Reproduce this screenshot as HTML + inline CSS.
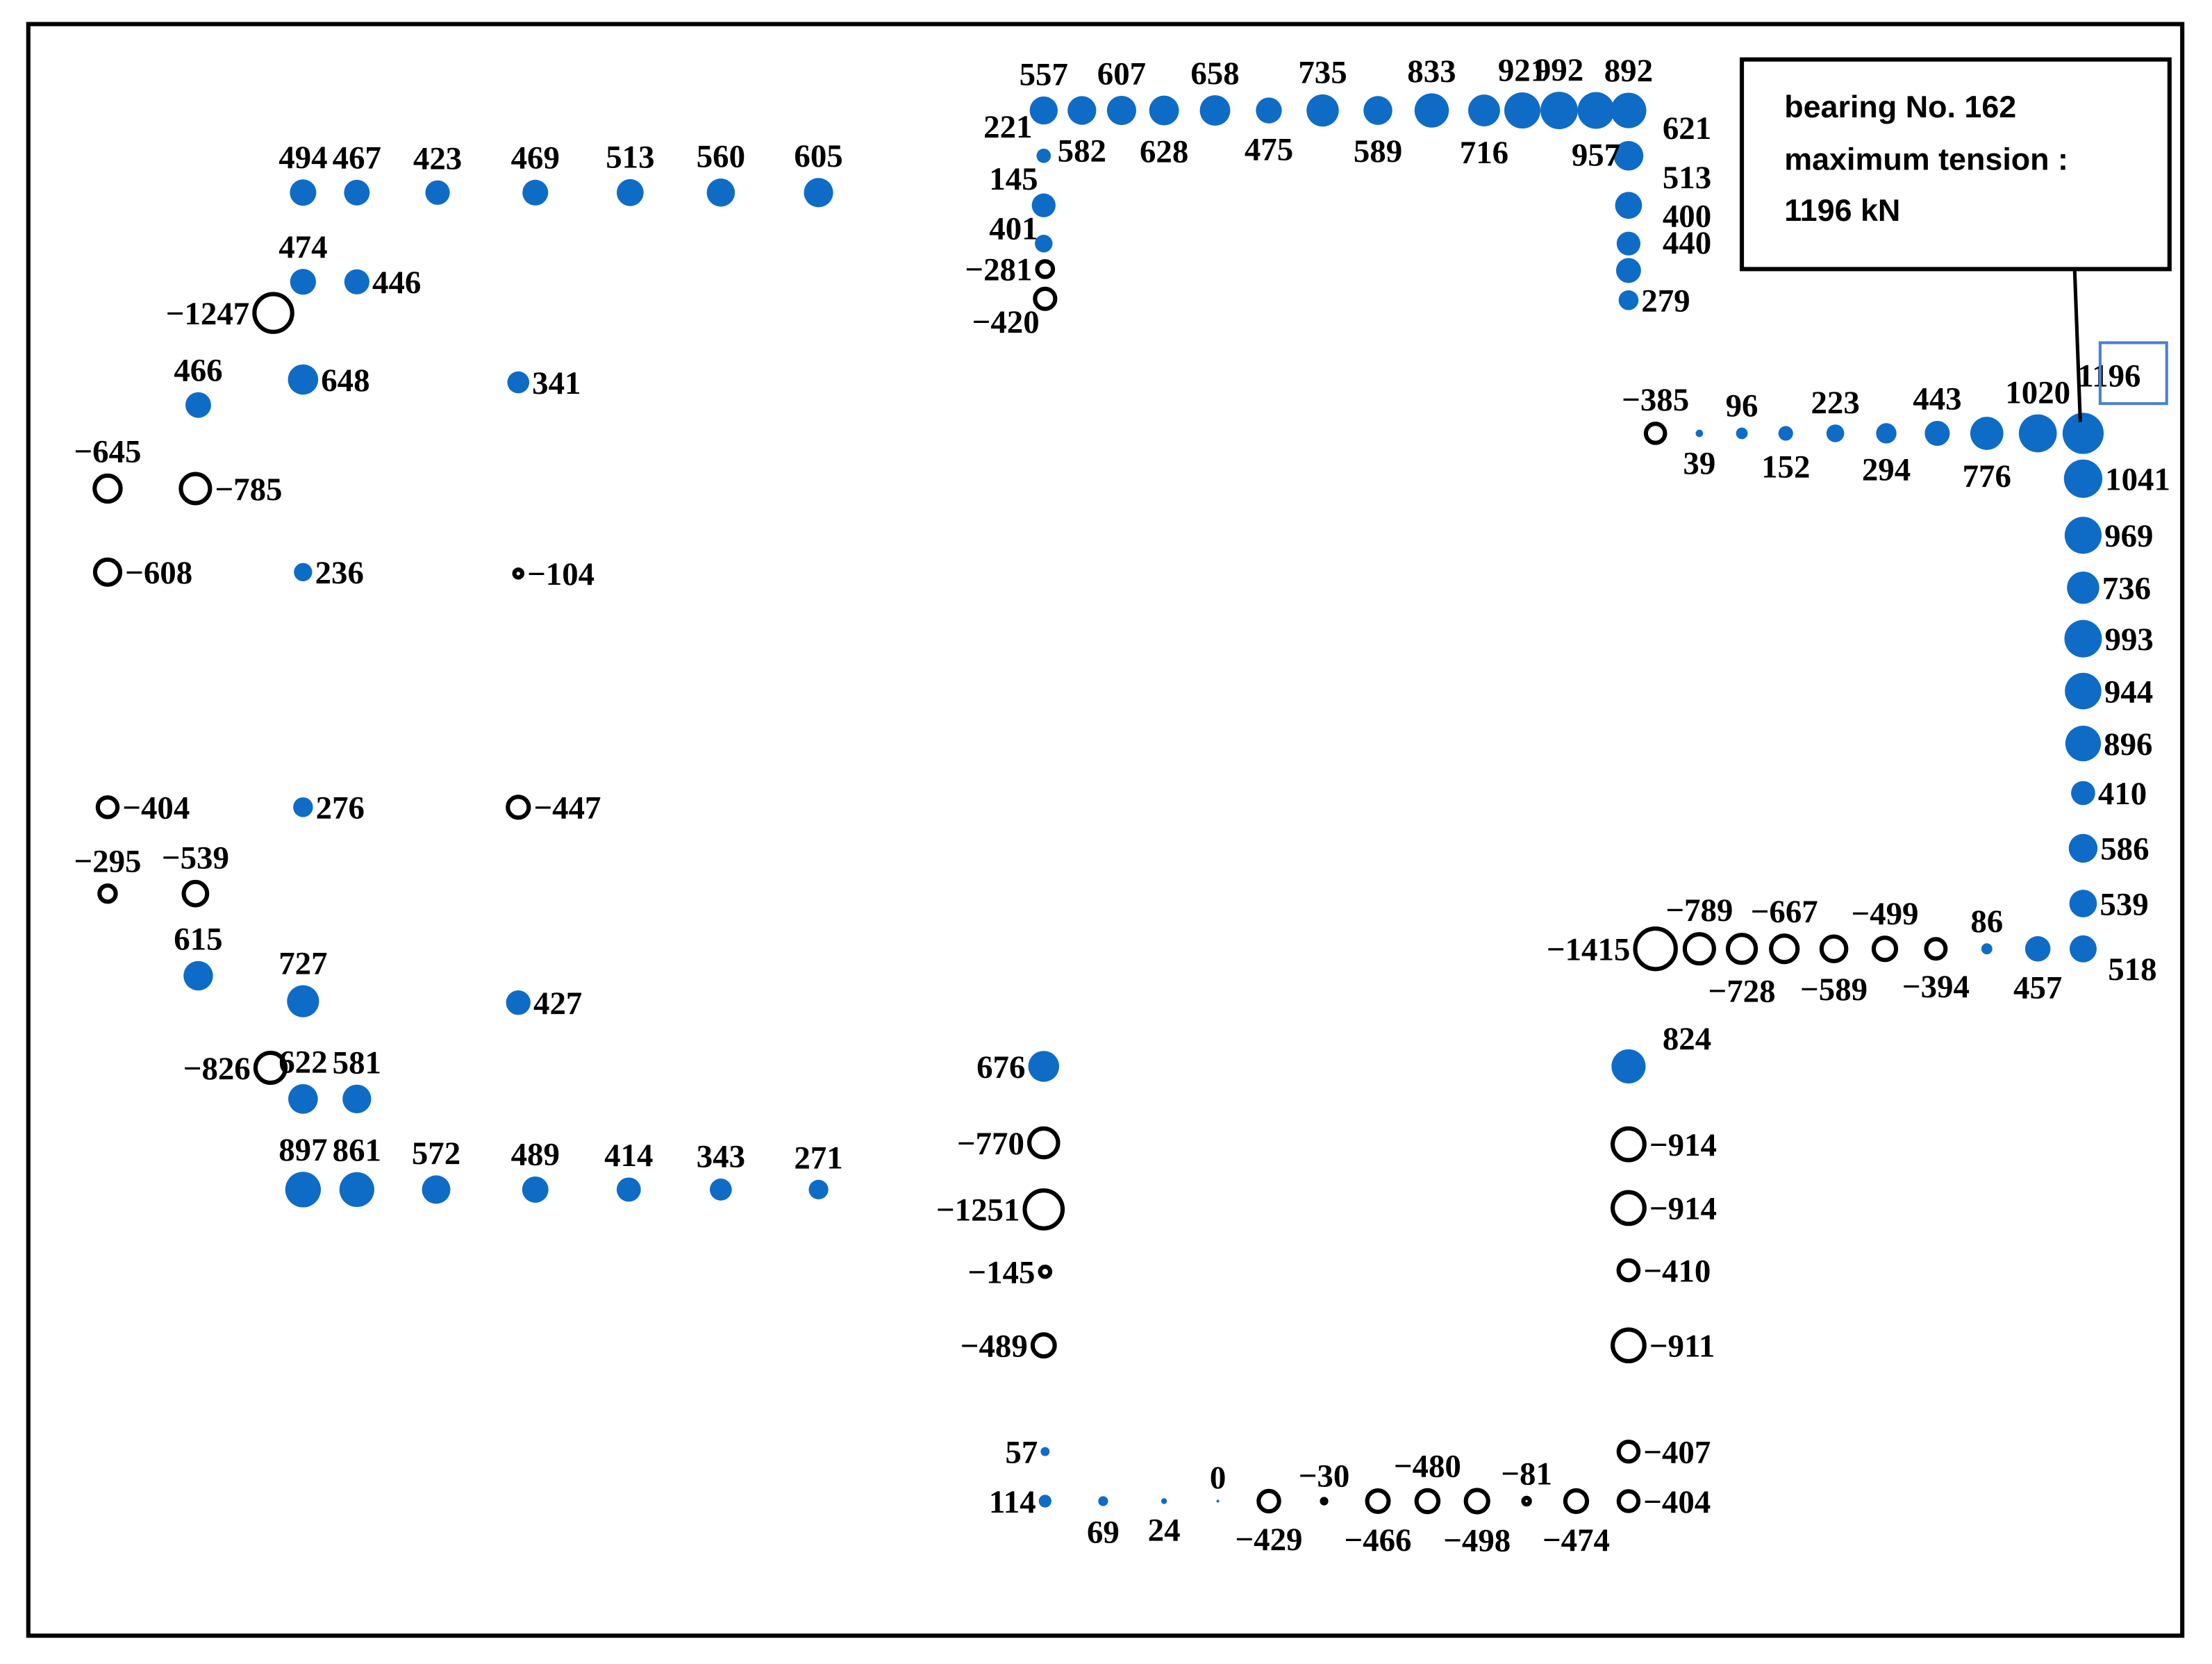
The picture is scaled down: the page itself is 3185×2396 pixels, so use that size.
<!DOCTYPE html>
<html><head><meta charset="utf-8"><style>
html,body{margin:0;padding:0;background:#fff}
svg{display:block}
text{font-family:"Liberation Serif","Noto Serif CJK SC",serif;font-weight:bold;font-size:23px;fill:#000}
.ann{font-family:"Liberation Sans","Noto Sans CJK SC",sans-serif;font-weight:bold;font-size:22px}
</style></head><body>
<svg id="chart" width="3185" height="2396" viewBox="0 0 1562 1175" preserveAspectRatio="none" xmlns="http://www.w3.org/2000/svg">
<rect x="20" y="17" width="1521" height="1138" fill="#fff" stroke="#000" stroke-width="3"/>
<g id="marks"></g>
<g id="labels"></g>
<rect x="1483" y="242" width="47" height="43" fill="none" stroke="#4a7fd4" stroke-width="2"/>
<line x1="1465" y1="190" x2="1469" y2="298" stroke="#000" stroke-width="2.5"/>
<rect x="1230" y="42" width="302" height="148" fill="#fff" stroke="#000" stroke-width="3"/>
<text class="ann" x="1260" y="83">bearing No. 162</text>
<text class="ann" x="1260" y="120">maximum tension :</text>
<text class="ann" x="1260" y="156">1196 kN</text>
</svg>
<script>
// bearing plan-position grid coordinates (chart units)
const bearingX = [214,252,309,378,445,509,578, 214,252,193,214,140,366,76,138,76,214,366,76,214,366,76,138,140,214,366,191,214,252, 214,252,308,378,444,509,578,
 737,764,792,822,858,896,934,973,1011,1048,1075,1101,1127,1150, 737,737,737,738,738,
 1150,1150,1150,1150,1150,
 1169,1200,1230,1261,1296,1332,1368,1403,1439,1471,
 1471,1471,1471,1471,1471,1471,1471,1471,1471,1471,
 1169,1200,1230,1260,1295,1331,1367,1403,1439,
 737,737,737,738,737, 1150,1150,1150,1150,1150,1150,1150,
 738,738,779,822,860,896,935,973,1008,1043,1078,1113];
const bearingY = [136,136,136,136,136,136,136, 199,199,221,268,286,270,345,345,404,404,405,570,570,570,631,631,689,707,708,754,776,776, 840,840,840,840,840,840,840,
 78,78,78,78,78,78,78,78,78,78,78,78,78,78, 172,110,145,190,211,
 110,145,172,191,212,
 306,306,306,306,306,306,306,306,306,306,
 338,378,415,451,488,525,560,599,638,670,
 670,670,670,670,670,670,670,670,670,
 753,807,854,898,950, 753,808,853,897,950,1025,1060,
 1025,1060,1060,1060,1060,1060,1060,1060,1060,1060,1060,1060];
// tension values (kN), negative = compression
const tensions = [494,467,423,469,513,560,605, 474,446,-1247,648,466,341,-645,-785,-608,236,-104,-404,276,-447,-295,-539,615,727,427,-826,622,581, 897,861,572,489,414,343,271,
 557,582,607,628,658,475,735,589,833,716,921,992,957,892, 221,145,401,-281,-420,
 621,513,400,440,279,
 -385,39,96,152,223,294,443,776,1020,1196,
 1041,969,736,993,944,896,410,586,539,518,
 -1415,-789,-728,-667,-589,-499,-394,86,457,
 676,-770,-1251,-145,-489, 824,-914,-914,-410,-911,-407,-404,
 57,114,69,24,0,-429,-30,-466,-480,-498,-81,-474];
// label placement side
const labelSide = ["a","a","a","a","a","a","a", "a","r","l","r","a","r","a","r","r","r","r","r","r","r","a","a","a","a","r","l","a","a", "a","a","a","a","a","a","a",
 "a","b","a","b","a","b","a","b","a","b","a","a","b","a", "lu","lb","lb","l","lb",
 "ra","ra","ra","ra","r",
 "a","b","a","b","a","b","a","b","a","box",
 "r","r","r","r","r","r","r","r","r","rb",
 "l","a","b","a","b","a","b","a","b",
 "l","l","l","l","l", "ra","r","r","r","r","r","r",
 "l","l","b","b","a","b","a","b","a","b","a","b"];

const NS="http://www.w3.org/2000/svg";
const marks=document.getElementById('marks'), labels=document.getElementById('labels');
function rScale(v){return Math.max(1,0.42*Math.sqrt(Math.abs(v)));}
for(let i=0;i<tensions.length;i++){
  const v=tensions[i], cx=bearingX[i], cy=bearingY[i], r=rScale(v);
  const c=document.createElementNS(NS,'circle');
  c.setAttribute('cx',cx);c.setAttribute('cy',cy);
  if(v>=0){c.setAttribute('r',r);c.setAttribute('fill','#0f6cc6');}
  else{c.setAttribute('r',Math.max(1.5,r-1.5));c.setAttribute('fill','none');c.setAttribute('stroke','#000');c.setAttribute('stroke-width',3);}
  
  
  marks.appendChild(c);
  const t=document.createElementNS(NS,'text');
  const s=labelSide[i]; const txt=(v<0?'\u2212'+Math.abs(v):String(v));
  let x=cx,y=cy+8,anchor='middle';
  if(s==='a'){y=cy-r-8;}
  else if(s==='b'){y=cy+r+26;}
  else if(s==='l'){x=cx-r-2;anchor='end';}
  else if(s==='lb'){x=cx-4;y=cy+24;anchor='end';}
  else if(s==='lu'){x=cx-8;y=cy-75;anchor='end';}
  else if(s==='ra'){x=cx+24;y=cy-12;anchor='start';}
  else if(s==='rb'){x=cx+r+8;y=cy+22;anchor='start';}
  else if(s==='box'){x=cx-4;y=cy-33;anchor='start';}
  else {x=cx+r+2;anchor='start';}
  t.setAttribute('x',x);t.setAttribute('y',y);t.setAttribute('text-anchor',anchor);
  t.textContent=txt;
  
  
  labels.appendChild(t);
}
</script>
</body></html>
